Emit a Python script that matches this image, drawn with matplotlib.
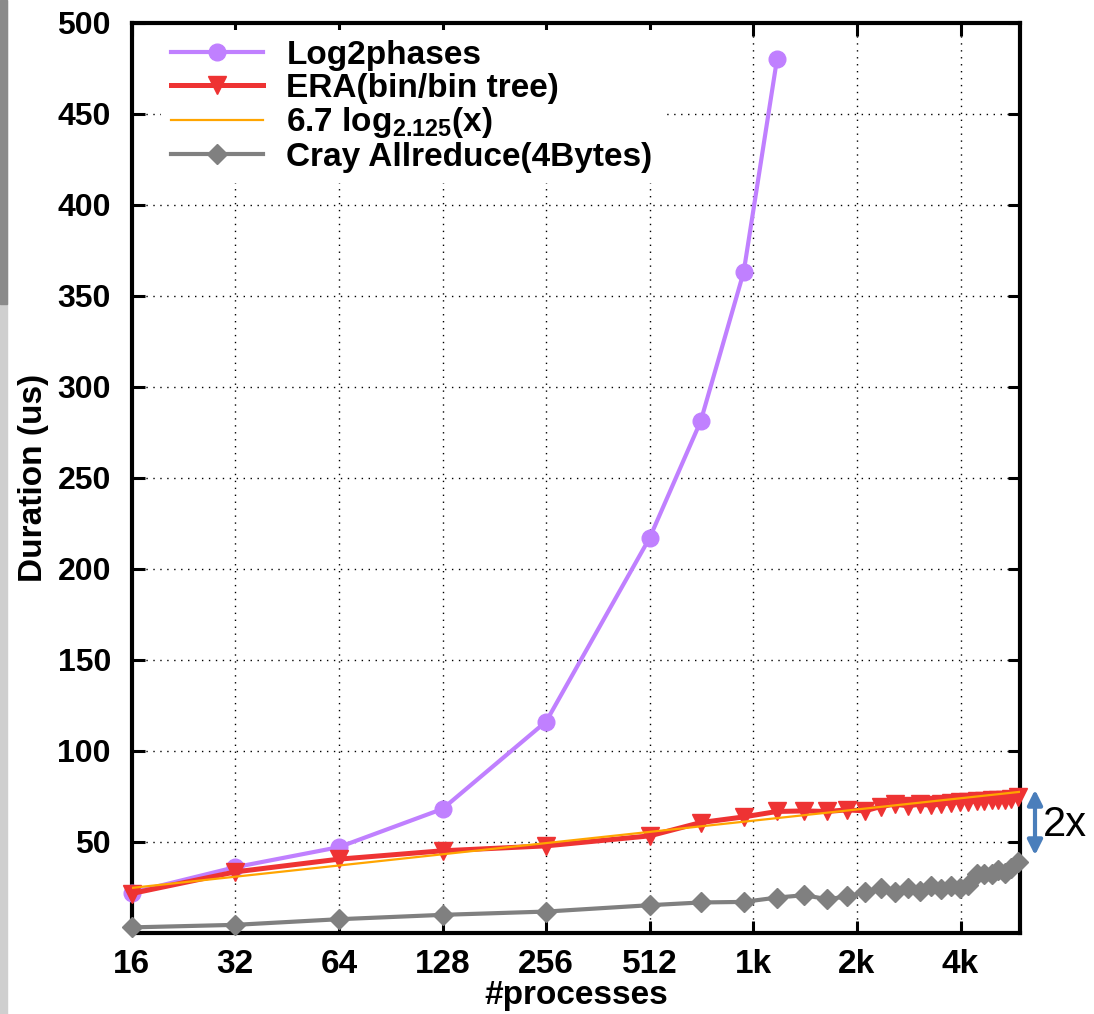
import matplotlib
matplotlib.use("Agg")
import matplotlib.pyplot as plt
from matplotlib.patches import Rectangle

plt.rcParams['font.family'] = ['Liberation Sans', 'DejaVu Sans']
plt.rcParams['font.weight'] = 'bold'
plt.rcParams['axes.labelweight'] = 'bold'
plt.rcParams['mathtext.fontset'] = 'custom'
plt.rcParams['mathtext.rm'] = 'Liberation Sans:bold'
plt.rcParams['mathtext.it'] = 'Liberation Sans:bold'
plt.rcParams['mathtext.bf'] = 'Liberation Sans:bold'

# Datos
log2_x = [16, 32, 64, 128, 256, 512, 720, 960, 1200]
log2_y = [22, 36, 47, 68, 116, 217, 281, 363, 480]

era_x = [16, 32, 64, 128, 256, 512, 720, 960, 1200, 1440, 1680, 1920, 2160, 2400,
         2640, 2880, 3120, 3360, 3600, 3840, 4080, 4320, 4560, 4800, 5040, 5280,
         5520, 5760, 6000]
era_y = [21.5, 33.4, 40.4, 45, 47.7, 53.2, 60.5, 63.6, 66.6, 66.9, 66.6, 67.5, 66.9, 69.3,
         70.6, 69.7, 70.6, 70.0, 70.6, 71.5, 71.9, 71.9, 72.4, 72.4, 73.0, 73.0,
         73.0, 73.4, 74.3]

fit_x = [16, 6100]
fit_y = [24.6, 77.4]

cray_x = era_x
cray_y = [2.9, 4.3, 7.4, 9.8, 11.6, 15.1, 16.6, 16.9, 19.3, 20.6, 18.4, 19.9, 22.4, 24.3,
          22.1, 24.8, 23.0, 25.4, 23.9, 25.7, 24.8, 26.1, 32.1, 32.5, 32.1, 34.5,
          32.7, 35.3, 38.6]

xticks = [16, 32, 64, 128, 256, 512, 1024, 2048, 4096]
xtick_labels = ['16', '32', '64', '128', '256', '512', '1k', '2k', '4k']
yticks = [50, 100, 150, 200, 250, 300, 350, 400, 450, 500]

fig = plt.figure(figsize=(10.94, 10.14), dpi=100)
ax = fig.add_axes([0.1204, 0.0802, 0.8120, 0.8974])

ax.plot(log2_x, log2_y, color='#C080FF', lw=3, marker='o', ms=12, clip_on=False,
        label='Log2phases', zorder=4)
ax.plot(era_x, era_y, color='#EE3333', lw=3.6, marker='v', ms=13, clip_on=False,
        label='ERA(bin/bin tree)', zorder=5)
ax.plot(fit_x, fit_y, color='#FFA500', lw=1.6, label=r'6.7 log$_{2.125}$(x)', zorder=6)
ax.plot(cray_x, cray_y, color='#808080', lw=3, marker='D', ms=10, clip_on=False,
        label='Cray Allreduce(4Bytes)', zorder=3)

ax.set_xscale('log', base=2)
ax.set_xlim(16, 6100)
ax.set_ylim(0, 500)
ax.set_xticks(xticks)
ax.set_xticklabels(xtick_labels)
ax.set_yticks(yticks)
ax.minorticks_off()
ax.tick_params(direction='in', length=9, width=2.2, top=True, right=True)
ax.tick_params(axis='x', labelsize=24, pad=12)
ax.tick_params(axis='y', labelsize=23, pad=15)
ax.grid(True, color='black', linestyle=(0, (1, 4)), linewidth=1)
for s in ax.spines.values():
    s.set_linewidth(3)

ax.set_xlabel('#processes', fontsize=24, fontweight='bold', labelpad=0)
ax.set_ylabel('Duration (us)', fontsize=24, fontweight='bold', labelpad=6)

ax.legend(loc='upper left', bbox_to_anchor=(161 / 1094, 1 - 30 / 1014),
          bbox_transform=fig.transFigure, fontsize=24, frameon=True,
          facecolor='white', edgecolor='none', framealpha=1, fancybox=False,
          borderpad=0.3, handlelength=2.76, handletextpad=0.7, labelspacing=0.05,
          borderaxespad=0, numpoints=1)

# flecha "2x"
ax.annotate('', xy=(1035 / 1094, 1 - 858 / 1014), xytext=(1035 / 1094, 1 - 787 / 1014),
            xycoords='figure fraction', textcoords='figure fraction',
            arrowprops=dict(arrowstyle='<|-|>', color='#4A7EBB', lw=3, mutation_scale=22),
            annotation_clip=False)
fig.text(1043 / 1094, 1 - 825 / 1014, '2x', fontsize=30, fontweight='normal',
         ha='left', va='center')

# borde gris de la captura
fig.patches.append(Rectangle((0, 0), 0.006, 1, transform=fig.transFigure,
                             color='#cfcfcf', zorder=0))
fig.patches.append(Rectangle((0, 0.7), 0.006, 0.3, transform=fig.transFigure,
                             color='#8a8a8a', zorder=0))

fig.savefig('out.png', dpi=100)
